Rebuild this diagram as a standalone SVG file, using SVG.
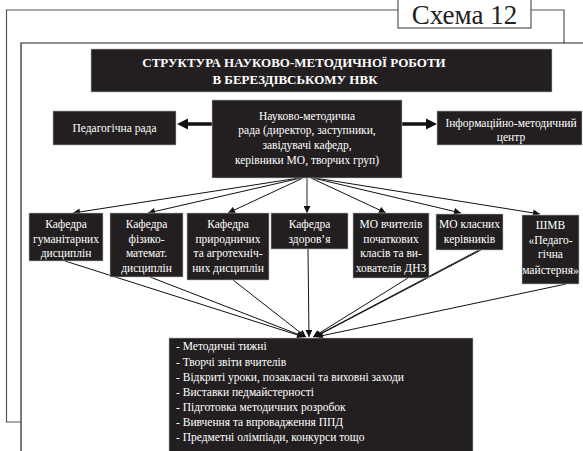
<svg xmlns="http://www.w3.org/2000/svg" width="583" height="451" viewBox="0 0 583 451">
<style>
.box{fill:#231f20;stroke:#bbb;stroke-width:0.6}
.f{font-family:'Liberation Serif','DejaVu Serif',serif}
.t{font-size:11.5px;fill:#fff;text-anchor:middle}
.tl{font-size:11.5px;fill:#fff}
.ttl{font-size:13px;font-weight:bold;fill:#fff;text-anchor:middle}
.c{stroke:#111;stroke-width:1;fill:none}
.thick{stroke:#111;stroke-width:3.5;fill:none}
.frame{fill:none;stroke:#555;stroke-width:1.2}
</style>
<defs>
<marker id="ah" viewBox="0 0 10 10" refX="10" refY="5" markerWidth="8" markerHeight="7" markerUnits="userSpaceOnUse" orient="auto">
<path d="M0,0 L10,5 L0,10 z" fill="#111"/>
</marker>
</defs>
<rect width="583" height="451" fill="#fff"/>
<g id="frames">
<path class="frame" d="M398,10 H6.5 V422 H21"/>
<path class="frame" d="M531,10 H564 V43"/>
<rect class="frame" x="398" y="-2" width="133" height="30" fill="#fff"/>
<text class="f" x="464.5" y="24" font-size="27" fill="#222" text-anchor="middle">Схема 12</text>
<path d="M583,43 H21 V451" fill="none" stroke="#222" stroke-width="1.2"/>
</g>
<g id="title" class="f">
<rect class="box" x="91" y="49" width="461" height="43"/>
<text class="ttl" x="294" y="67">СТРУКТУРА НАУКОВО-МЕТОДИЧНОЇ РОБОТИ</text>
<text class="ttl" x="295" y="84">В БЕРЕЗДІВСЬКОМУ НВК</text>
</g>
<g id="connectors">
<line class="thick" x1="212" y1="124" x2="186" y2="124"/>
<path d="M177,124 L188,118.5 L188,129.5 z" fill="#111"/>
<line class="thick" x1="402" y1="124" x2="428" y2="124"/>
<path d="M437,124 L426,118.5 L426,129.5 z" fill="#111"/>
<line class="c" x1="299" y1="178" x2="73" y2="213" marker-end="url(#ah)"/>
<line class="c" x1="301" y1="178" x2="148" y2="213" marker-end="url(#ah)"/>
<line class="c" x1="303" y1="178" x2="228" y2="213" marker-end="url(#ah)"/>
<line x1="307" y1="178" x2="307" y2="213" stroke="#555" stroke-width="1.3" marker-end="url(#ah)"/>
<line class="c" x1="311" y1="178" x2="386" y2="213" marker-end="url(#ah)"/>
<line class="c" x1="313" y1="178" x2="461" y2="213" marker-end="url(#ah)"/>
<line class="c" x1="315" y1="178" x2="540" y2="214" marker-end="url(#ah)"/>
<line class="c" x1="65" y1="261" x2="304" y2="337" marker-end="url(#ah)"/>
<line class="c" x1="150" y1="277" x2="305" y2="337" marker-end="url(#ah)"/>
<line class="c" x1="233" y1="280" x2="306" y2="337" marker-end="url(#ah)"/>
<line class="c" x1="308" y1="249" x2="309" y2="337" marker-end="url(#ah)"/>
<line class="c" x1="408" y1="278" x2="313" y2="337" marker-end="url(#ah)"/>
<line class="c" x1="479" y1="250" x2="314" y2="337" marker-end="url(#ah)"/>
<line class="c" x1="481" y1="250" x2="315" y2="337"/>
<line class="c" x1="566" y1="284" x2="316" y2="337" marker-end="url(#ah)"/>
</g>
<g id="n-center" class="f">
<rect class="box" x="212" y="100" width="190" height="78"/>
<text class="t" x="307" y="120">Науково-методична</text>
<text class="t" x="307" y="134">рада (директор, заступники,</text>
<text class="t" x="307" y="149">завідувачі кафедр,</text>
<text class="t" x="307" y="164">керівники МО, творчих груп)</text>
</g>
<g id="n-ped" class="f">
<rect class="box" x="53" y="111" width="123" height="34"/>
<text class="t" x="114.5" y="132">Педагогічна рада</text>
</g>
<g id="n-info" class="f">
<rect class="box" x="437" y="111" width="145" height="34"/>
<text class="t" x="511" y="127">Інформаційно-методичний</text>
<text class="t" x="511" y="141">центр</text>
</g>
<g id="n-hum" class="f">
<rect class="box" x="29" y="213" width="74" height="48"/>
<text class="t" x="66" y="228">Кафедра</text>
<text class="t" x="66" y="243">гуманітарних</text>
<text class="t" x="66" y="257">дисциплін</text>
</g>
<g id="n-fiz" class="f">
<rect class="box" x="110" y="213" width="73" height="64"/>
<text class="t" x="146.5" y="228">Кафедра</text>
<text class="t" x="146.5" y="243">фізико-</text>
<text class="t" x="146.5" y="257">математ.</text>
<text class="t" x="146.5" y="272">дисциплін</text>
</g>
<g id="n-pryr" class="f">
<rect class="box" x="187" y="213" width="82" height="67"/>
<text class="t" x="228" y="228">Кафедра</text>
<text class="t" x="228" y="243">природничих</text>
<text class="t" x="228" y="257">та агротехніч-</text>
<text class="t" x="228" y="272">них дисциплін</text>
</g>
<g id="n-zdor" class="f">
<rect class="box" x="271" y="213" width="77" height="36"/>
<text class="t" x="309.5" y="228">Кафедра</text>
<text class="t" x="309.5" y="243">здоров’я</text>
</g>
<g id="n-mo1" class="f">
<rect class="box" x="353" y="213" width="76" height="65"/>
<text class="t" x="391" y="228">МО вчителів</text>
<text class="t" x="391" y="243">початкових</text>
<text class="t" x="391" y="257">класів та ви-</text>
<text class="t" x="391" y="272">хователів ДНЗ</text>
</g>
<g id="n-mo2" class="f">
<rect class="box" x="436" y="214" width="67" height="36"/>
<text class="t" x="469.5" y="228">МО класних</text>
<text class="t" x="469.5" y="243">керівників</text>
</g>
<g id="n-shmv" class="f">
<rect class="box" x="522" y="215" width="57" height="69"/>
<text class="t" x="550.5" y="229">ШМВ</text>
<text class="t" x="550.5" y="244">«Педаго-</text>
<text class="t" x="550.5" y="258">гічна</text>
<text class="t" x="550.5" y="274">майстерня»</text>
</g>
<g id="n-list" class="f">
<rect class="box" x="169" y="338" width="304" height="116"/>
<text class="tl" x="176" y="350">- Методичні тижні</text>
<text class="tl" x="176" y="366">- Творчі звіти вчителів</text>
<text class="tl" x="176" y="381">- Відкриті уроки, позакласні та виховні заходи</text>
<text class="tl" x="176" y="396">- Виставки педмайстерності</text>
<text class="tl" x="176" y="411">- Підготовка методичних розробок</text>
<text class="tl" x="176" y="426">- Вивчення та впровадження ППД</text>
<text class="tl" x="176" y="441">- Предметні олімпіади, конкурси тощо</text>
</g>
</svg>
